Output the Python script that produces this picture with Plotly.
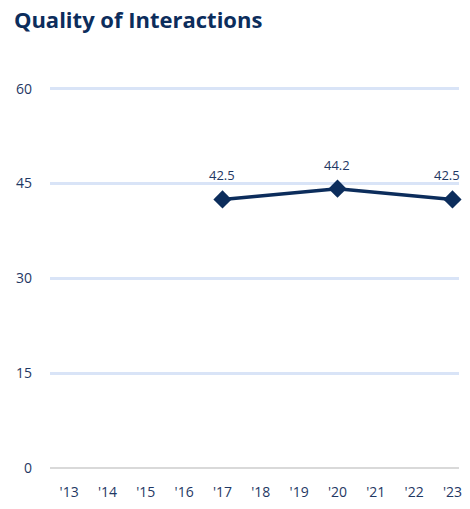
import plotly.graph_objects as go

years = ["'13", "'14", "'15", "'16", "'17", "'18", "'19", "'20", "'21", "'22", "'23"]
scores = [None, None, None, None, 42.5, None, None, 44.2, None, None, 42.5]
y_ticks = [0, 15, 30, 45, 60]

navy = '#0c2d5c'
label_col = '#1f3864'
font_fam = 'Open Sans, Liberation Sans, sans-serif'

fig = go.Figure()

fig.add_trace(go.Scatter(
    x=years, y=scores,
    mode='lines+markers',
    connectgaps=True,
    line=dict(color=navy, width=3.5),
    marker=dict(symbol='diamond', size=14, color=navy),
    cliponaxis=False,
    showlegend=False,
))

# value labels above the points (last one nudged left so it stays on screen)
pts = [(yr, v) for yr, v in zip(years, scores) if v is not None]
for i, (yr, v) in enumerate(pts):
    fig.add_annotation(x=yr, y=v, text=f'{v:.1f}', showarrow=False, yshift=24,
                       xshift=-5 if i == len(pts) - 1 else 0,
                       font=dict(family=font_fam, size=13, color=label_col))

# page body has an 8px margin, visible area ends around x=462
fig.update_layout(
    width=454, height=493,
    margin=dict(l=42, r=0, t=77, b=28),
    paper_bgcolor='white', plot_bgcolor='white',
    title=dict(text='<b>Quality of Interactions</b>', x=0.013, xanchor='left', y=0.99, yanchor='top',
               font=dict(family=font_fam, size=22, color=navy)),
    font=dict(family=font_fam, size=14, color=label_col),
)

fig.update_xaxes(
    type='category', range=[-0.5, 10.17],
    showgrid=False, showline=False, zeroline=False,
    ticks='', ticklabelstandoff=14,
    tickfont=dict(size=14, color=label_col),
)
fig.update_yaxes(
    range=[0, 60.6], tickvals=y_ticks,
    showgrid=True, gridcolor='#d9e4f7', gridwidth=3,
    zeroline=True, zerolinecolor='#d9d9d9', zerolinewidth=2,
    showline=False, ticks='', ticklabelstandoff=17,
    tickfont=dict(size=14, color=label_col),
)

fig.write_html('out.html')
